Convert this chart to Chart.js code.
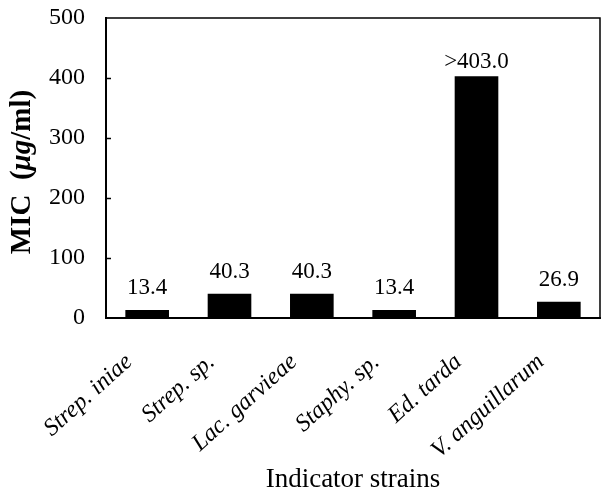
<!DOCTYPE html>
<html>
<head>
<meta charset="utf-8">
<script src="https://cdn.jsdelivr.net/npm/chart.js@4/dist/chart.umd.min.js"></script>
<style>
html,body{margin:0;padding:0;background:#fff;}
#c{display:block;}
</style>
</head>
<body>
<canvas id="c" width="602" height="496"></canvas>
<script>
const categories = ["Strep. iniae", "Strep. sp.", "Lac. garvieae", "Staphy. sp.", "Ed. tarda", "V. anguillarum"];
const micValues = [13.4, 40.3, 40.3, 13.4, 403.0, 26.9];
const valueLabels = ["13.4", "40.3", "40.3", "13.4", ">403.0", "26.9"];
const yTicks = [0, 100, 200, 300, 400, 500];
const xTitle = "Indicator strains";
const yTitleParts = [["MIC  (", "bold"], ["\u03BCg", "italic bold"], ["/ml)", "bold"]];

const SERIF = "'Liberation Serif', 'DejaVu Serif', serif";

const decor = {
  id: 'decor',
  afterDraw(chart) {
    const ctx = chart.ctx;
    const a = chart.chartArea;
    const ys = chart.scales.y;
    ctx.save();
    // frame
    ctx.strokeStyle = '#000';
    ctx.lineWidth = 1.5;
    ctx.beginPath();
    ctx.moveTo(a.left, a.top);
    ctx.lineTo(a.right, a.top);
    ctx.lineTo(a.right, a.bottom);
    ctx.stroke();
    // inward ticks
    yTicks.forEach(v => {
      if (v === 0 || v === 500) return;
      const py = Math.round(ys.getPixelForValue(v)) + 0.5;
      ctx.beginPath();
      ctx.moveTo(a.left, py);
      ctx.lineTo(a.left + 5, py);
      ctx.stroke();
    });
    // value labels
    ctx.fillStyle = '#000';
    ctx.font = "23px " + SERIF;
    ctx.textAlign = 'center';
    ctx.textBaseline = 'alphabetic';
    const meta = chart.getDatasetMeta(0);
    meta.data.forEach((bar, i) => {
      const gap = micValues[i] > 300 ? 8 : 16;
      ctx.fillText(valueLabels[i], bar.x, bar.y - gap);
    });
    // x title
    ctx.font = "27px " + SERIF;
    ctx.fillText(xTitle, (a.left + a.right) / 2, 487);
    // y title
    ctx.translate(30, (a.top + a.bottom) / 2 + 4);
    ctx.rotate(-Math.PI / 2);
    let total = 0;
    yTitleParts.forEach(p => {
      ctx.font = p[1] + " 29px " + SERIF;
      total += ctx.measureText(p[0]).width;
    });
    let x = -total / 2;
    ctx.textAlign = 'left';
    yTitleParts.forEach(p => {
      ctx.font = p[1] + " 29px " + SERIF;
      ctx.fillText(p[0], x, 0);
      x += ctx.measureText(p[0]).width;
    });
    ctx.restore();
  }
};

new Chart(document.getElementById('c'), {
  type: 'bar',
  data: {
    labels: categories,
    datasets: [{
      data: micValues,
      backgroundColor: '#000',
      borderWidth: 0,
      barPercentage: 0.53,
      categoryPercentage: 1.0
    }]
  },
  options: {
    responsive: false,
    devicePixelRatio: 1,
    animation: false,
    events: [],
    layout: { padding: { left: 0, right: 2, top: 18, bottom: 0 } },
    plugins: { legend: { display: false }, tooltip: { enabled: false } },
    scales: {
      x: {
        grid: { display: false, drawTicks: false },
        border: { display: true, color: '#000', width: 2 },
        ticks: {
          color: '#000',
          font: { family: SERIF, size: 24, style: 'italic' },
          maxRotation: 42,
          minRotation: 42,
          padding: 30,
          labelOffset: -18,
          autoSkip: false
        },
        afterFit(s) { s.height = 178; s.paddingLeft = 0; s.paddingRight = 0; }
      },
      y: {
        min: 0,
        max: 500,
        grid: { display: false, drawTicks: false },
        border: { display: true, color: '#000', width: 2 },
        ticks: {
          color: '#000',
          font: { family: SERIF, size: 24 },
          stepSize: 100,
          padding: 21,
          callback: (v) => yTicks.includes(v) ? String(v) : ''
        },
        afterFit(s) { s.width = 106; s.paddingTop = 0; s.paddingBottom = 0; }
      }
    }
  },
  plugins: [decor]
});
</script>
</body>
</html>
